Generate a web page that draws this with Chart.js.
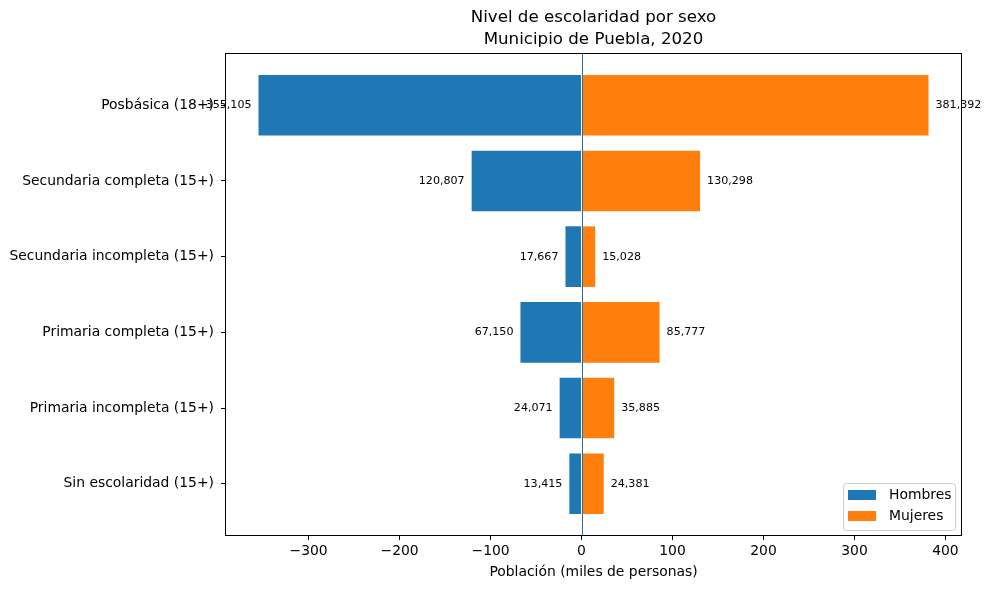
<!DOCTYPE html>
<html>
<head>
<meta charset="utf-8">
<script src="https://cdn.jsdelivr.net/npm/chart.js@4.4.1/dist/chart.umd.min.js"></script>
<style>
html,body{margin:0;padding:0;background:#fff;}
#wrap{width:991px;height:590px;}
</style>
</head>
<body>
<div id="wrap"><canvas id="c" width="991" height="590"></canvas></div>
<script>
const categories = ['Posbásica (18+)', 'Secundaria completa (15+)', 'Secundaria incompleta (15+)', 'Primaria completa (15+)', 'Primaria incompleta (15+)', 'Sin escolaridad (15+)'];
const hombres = [355105, 120807, 17667, 67150, 24071, 13415];
const mujeres = [381392, 130298, 15028, 85777, 35885, 24381];
const xTicks = [-300, -200, -100, 0, 100, 200, 300, 400];
const seriesNames = ['Hombres', 'Mujeres'];
const titleLines = ['Nivel de escolaridad por sexo', 'Municipio de Puebla, 2020'];
const xTitle = 'Población (miles de personas)';

const FONT = 'DejaVu Sans';
const C_H = '#1f77b4', C_M = '#ff7f0e';

const dataH = hombres.map((v, i) => ({ x: -v / 1000, y: i }));
const dataM = mujeres.map((v, i) => ({ x: v / 1000, y: i }));

const allVals = dataH.map(d => d.x).concat(dataM.map(d => d.x));
const dmin = Math.min(0, ...allVals), dmax = Math.max(0, ...allVals);
const xm = (dmax - dmin) * 0.05;
const ym = (categories.length - 1 + 0.8) * 0.05;

const fmt = n => n.toLocaleString('en-US');

const extras = {
  id: 'extras',
  afterDatasetsDraw(chart) {
    const ctx = chart.ctx, ca = chart.chartArea;
    const xs = chart.scales.x;
    ctx.save();
    // zero line
    const x0 = Math.round(xs.getPixelForValue(0)) + 0.5;
    ctx.strokeStyle = '#2f6d99';
    ctx.lineWidth = 1;
    ctx.beginPath(); ctx.moveTo(x0, ca.top); ctx.lineTo(x0, ca.bottom); ctx.stroke();
    // value labels
    ctx.font = '11.1px "' + FONT + '"';
    ctx.fillStyle = '#000';
    ctx.textBaseline = 'middle';
    const raw = [hombres, mujeres];
    chart.data.datasets.forEach((ds, di) => {
      const meta = chart.getDatasetMeta(di);
      meta.data.forEach((bar, i) => {
        if (di === 0) { ctx.textAlign = 'right'; ctx.fillText(fmt(raw[di][i]), bar.x - 7, bar.y); }
        else { ctx.textAlign = 'left'; ctx.fillText(fmt(raw[di][i]), bar.x + 7, bar.y); }
      });
    });
    // frame
    ctx.strokeStyle = '#000';
    ctx.lineWidth = 1;
    ctx.strokeRect(Math.round(ca.left) + 0.5, Math.round(ca.top) + 0.5, Math.round(ca.right - ca.left) - 1, Math.round(ca.bottom - ca.top) - 1);
    // title
    ctx.font = '16.67px "' + FONT + '"';
    ctx.textAlign = 'center';
    ctx.textBaseline = 'middle';
    const cx = (ca.left + ca.right) / 2;
    ctx.fillText(titleLines[0], cx, 18);
    ctx.fillText(titleLines[1], cx, 40);
    // legend
    const lw = 112, lh = 47;
    const lx = ca.right - 7 - lw, ly = ca.bottom - 6 - lh;
    ctx.fillStyle = 'rgba(255,255,255,0.8)';
    ctx.strokeStyle = '#cccccc';
    ctx.beginPath();
    if (ctx.roundRect) ctx.roundRect(lx + 0.5, ly + 0.5, lw, lh, 3); else ctx.rect(lx + 0.5, ly + 0.5, lw, lh);
    ctx.fill(); ctx.stroke();
    const cols = [C_H, C_M];
    ctx.font = '13.9px "' + FONT + '"';
    ctx.textAlign = 'left';
    seriesNames.forEach((n, k) => {
      const ry = ly + 12 + k * 21;
      ctx.fillStyle = cols[k];
      ctx.fillRect(lx + 5, ry - 5, 28, 10);
      ctx.fillStyle = '#000';
      ctx.fillText(n, lx + 46, ry);
    });
    ctx.restore();
  }
};

new Chart(document.getElementById('c'), {
  type: 'bar',
  data: {
    datasets: [
      { label: seriesNames[0], data: dataH, backgroundColor: C_H, borderWidth: 0, barPercentage: 0.8, categoryPercentage: 1 },
      { label: seriesNames[1], data: dataM, backgroundColor: C_M, borderWidth: 0, barPercentage: 0.8, categoryPercentage: 1 }
    ]
  },
  options: {
    indexAxis: 'y',
    responsive: false,
    animation: false,
    devicePixelRatio: 1,
    layout: { padding: { top: 53, right: 29, bottom: 0, left: 0 } },
    plugins: { legend: { display: false }, tooltip: { enabled: false }, title: { display: false } },
    scales: {
      x: {
        type: 'linear',
        stacked: true,
        offset: false,
        min: dmin - xm,
        max: dmax + xm,
        afterBuildTicks: s => { s.ticks = xTicks.map(v => ({ value: v })); },
        afterFit: s => { s.height = 54; },
        grid: { offset: false, drawOnChartArea: false, tickLength: 4, tickColor: '#000', tickWidth: 1 },
        border: { display: false },
        ticks: {
          color: '#000', padding: 3, maxRotation: 0, autoSkip: false,
          font: { family: FONT, size: 13.9 },
          callback: v => (v < 0 ? '\u2212' + Math.abs(v) : String(v))
        },
        title: { display: true, text: xTitle, color: '#000', font: { family: FONT, size: 13.9 }, padding: { top: 0, bottom: 9 } }
      },
      y: {
        type: 'linear',
        stacked: true,
        reverse: true,
        offset: false,
        min: -0.4 - ym,
        max: categories.length - 1 + 0.4 + ym,
        afterBuildTicks: s => { s.ticks = categories.map((c, i) => ({ value: i })); },
        afterFit: s => { s.width = 225; },
        grid: { offset: false, drawOnChartArea: false, tickLength: 4, tickColor: '#000', tickWidth: 1 },
        border: { display: false },
        ticks: {
          color: '#000', padding: 7, autoSkip: false,
          font: { family: FONT, size: 13.9 },
          callback: v => categories[v]
        }
      }
    }
  },
  plugins: [extras]
});
</script>
</body>
</html>
